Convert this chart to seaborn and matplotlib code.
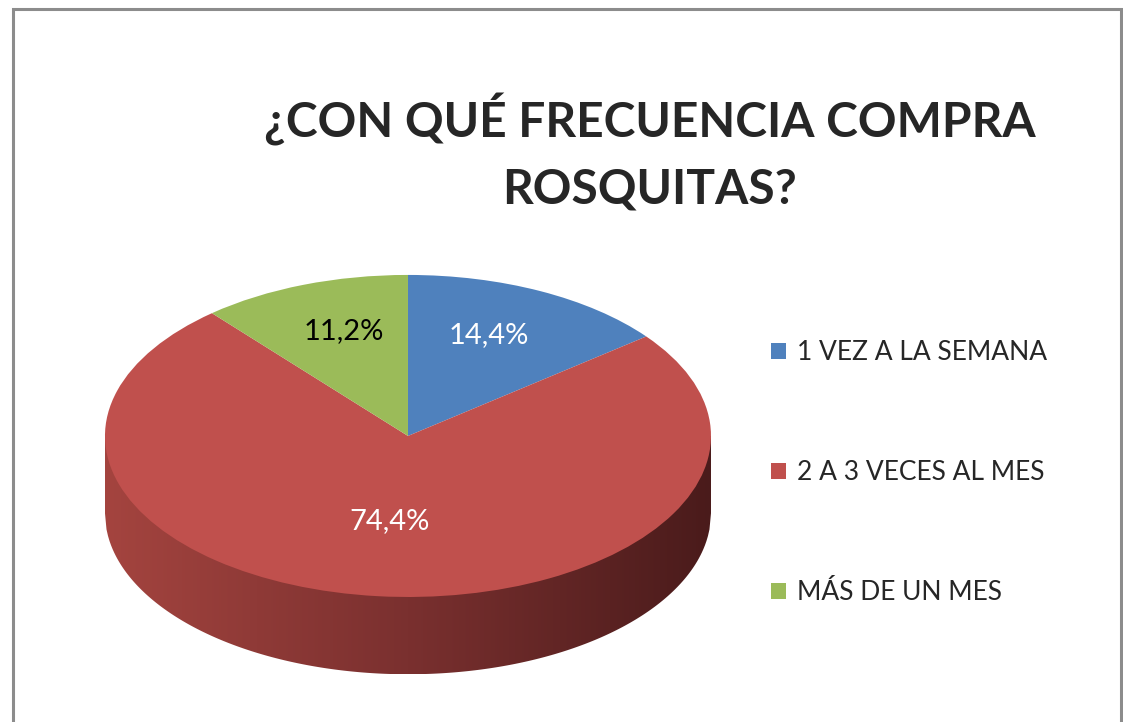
import numpy as np
import seaborn as sns
import matplotlib.pyplot as plt
from matplotlib.colors import LinearSegmentedColormap
from matplotlib.patches import Rectangle

sns.set_theme(style='white')
plt.rcParams['font.family'] = ['Lato', 'DejaVu Sans']

categories = ['1 VEZ A LA SEMANA', '2 A 3 VECES AL MES', 'MÁS DE UN MES']
percentages = [14.4, 74.4, 11.2]
slice_colors = ['#4f81bd', '#c0504d', '#9bbb59']
label_colors = ['white', 'white', 'black']

fig = plt.figure(figsize=(11.23, 7.22), dpi=100)
ax = fig.add_axes([0.0665, 0.0438, 0.5936, 0.5977])

# side wall of the "3d" pie, shaded left to right
depth = 0.48
xs = np.linspace(-1, 1, 400)
rim = -np.sqrt(1 - xs**2)
wall = ax.fill_between(xs, 0, rim - depth, color='none', lw=0)
grad = np.linspace(0, 1, 256).reshape(1, -1)
side_cmap = LinearSegmentedColormap.from_list('side', ['#a4443f', '#7a302f', '#4a1b1b'])
img = ax.imshow(grad, extent=[-1, 1, -1 - depth, 0], cmap=side_cmap, aspect='auto', zorder=0.5)
img.set_clip_path(wall.get_paths()[0], transform=ax.transData)

wedges, texts, autotexts = ax.pie(
    percentages, colors=slice_colors, startangle=90, counterclock=False,
    autopct=lambda p: f'{p:.1f}%'.replace('.', ','), pctdistance=0.61,
    wedgeprops=dict(linewidth=0))
for t, c in zip(autotexts, label_colors):
    t.set_color(c)
    t.set_fontsize(21)
    # perspective: the slice tip sits a bit above the ellipse centre
    x, y = t.get_position()
    t.set_position((x, y + 0.08))

ax.set_aspect('auto')
ax.set_xlim(-1.1, 1.1)
ax.set_ylim(-1 - depth - 0.1, 1.1)
ax.axis('off')

ax.legend(wedges, categories, loc='upper left',
          bbox_to_anchor=(771 / 1123, 1 - 340 / 722), bbox_transform=fig.transFigure,
          frameon=False, fontsize=19, labelspacing=3.6, handlelength=0.55,
          handleheight=0.55, handletextpad=0.45, borderpad=0, borderaxespad=0)

fig.text(650 / 1123, 1 - 152 / 722, '¿CON QUÉ FRECUENCIA COMPRA\nROSQUITAS?',
         ha='center', va='center', fontsize=34.5, fontweight='bold', linespacing=1.6)

fig.patches.append(Rectangle((13 / 1123, -0.1), (1121 - 13) / 1123, 1 - 9 / 722 + 0.1,
                             transform=fig.transFigure, fill=False,
                             edgecolor='#8c8c8c', lw=2.2))

fig.savefig('out.png', dpi=100)
